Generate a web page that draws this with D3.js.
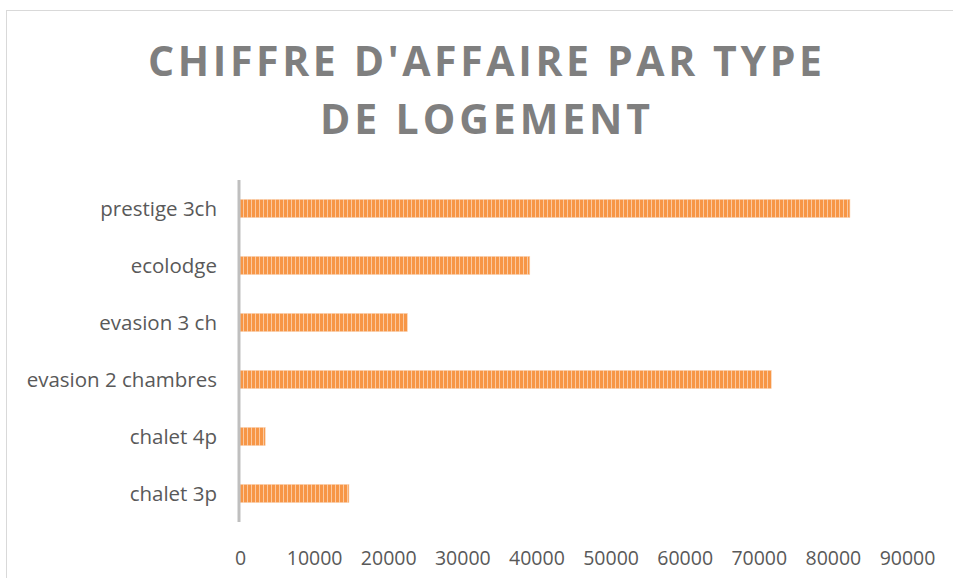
<!DOCTYPE html>
<html>
<head>
<meta charset="utf-8">
<script src="https://cdn.jsdelivr.net/npm/d3@7"></script>
<style>
  body { margin: 0; background: #fff; }
  svg { display: block; }
</style>
</head>
<body>
<svg id="chart"></svg>
<script>
const width = 953
const height = 578

// data
const categories = ["prestige 3ch", "ecolodge", "evasion 3 ch", "evasion 2 chambres", "chalet 4p", "chalet 3p"]
const values = [82300, 39100, 22600, 71700, 3400, 14700]
const ticks = [0, 10000, 20000, 30000, 40000, 50000, 60000, 70000, 80000, 90000]
const titleLines = ["CHIFFRE D'AFFAIRE PAR TYPE", "DE LOGEMENT"]

const svg = d3.select("#chart")
    .attr("width", width)
    .attr("height", height)

// stripe pattern like the excel fill
const defs = svg.append("defs")
const pat = defs.append("pattern")
    .attr("id", "stripes")
    .attr("patternUnits", "userSpaceOnUse")
    .attr("width", 4)
    .attr("height", 4)
pat.append("rect").attr("width", 4).attr("height", 4).attr("fill", "#F79646")
pat.append("rect").attr("x", 3).attr("width", 1).attr("height", 4).attr("fill", "#FBC9A0")

// chart frame
svg.append("rect")
    .attr("x", 6.5).attr("y", 10.5)
    .attr("width", width + 10).attr("height", height + 10)
    .attr("fill", "none")
    .attr("stroke", "#D9D9D9")

const x = d3.scaleLinear()
    .domain([0, 90000])
    .range([240, 907])

const y = d3.scaleBand()
    .domain(categories)
    .range([180, 522])
    .paddingInner(0.68)
    .paddingOuter(0.34)

// title
const title = svg.append("g")
    .attr("font-family", "'Open Sans', sans-serif")
    .attr("font-weight", 700)
    .attr("font-size", 41)
    .attr("fill", "#7F7F7F")
    .attr("text-anchor", "middle")
const titleWidths = [674, 330]
titleLines.forEach((t, i) => {
    title.append("text")
        .attr("x", 485)
        .attr("y", 76 + i * 58)
        .attr("textLength", titleWidths[i])
        .attr("lengthAdjust", "spacing")
        .text(t)
})

// bars
svg.append("g")
    .selectAll("rect")
    .data(categories)
    .join("rect")
    .attr("x", x(0))
    .attr("y", d => y(d))
    .attr("width", (d, i) => x(values[i]) - x(0))
    .attr("height", y.bandwidth())
    .attr("fill", "url(#stripes)")
    .attr("stroke", "#FAD3B3")
    .attr("stroke-width", 0.6)

// category labels
svg.append("g")
    .attr("font-family", "'Open Sans', sans-serif")
    .attr("font-size", 20.5)
    .attr("fill", "#595959")
    .attr("text-anchor", "end")
    .selectAll("text")
    .data(categories)
    .join("text")
    .attr("x", 217)
    .attr("y", d => y(d) + y.bandwidth() / 2)
    .attr("dy", "0.35em")
    .text(d => d)

// vertical axis line
svg.append("line")
    .attr("x1", 239).attr("x2", 239)
    .attr("y1", 180).attr("y2", 522)
    .attr("stroke", "#BFBFBF")
    .attr("stroke-width", 3)

// x tick labels
const xAxis = svg.append("g")
    .attr("transform", "translate(0,548)")
    .call(d3.axisBottom(x).tickValues(ticks).tickFormat(d3.format("d")).tickSize(0))
xAxis.select(".domain").remove()
xAxis.selectAll("text")
    .attr("font-family", "'Open Sans', sans-serif")
    .attr("font-size", 19.5)
    .attr("fill", "#595959")
    .attr("dy", "0.71em")
</script>
</body>
</html>
